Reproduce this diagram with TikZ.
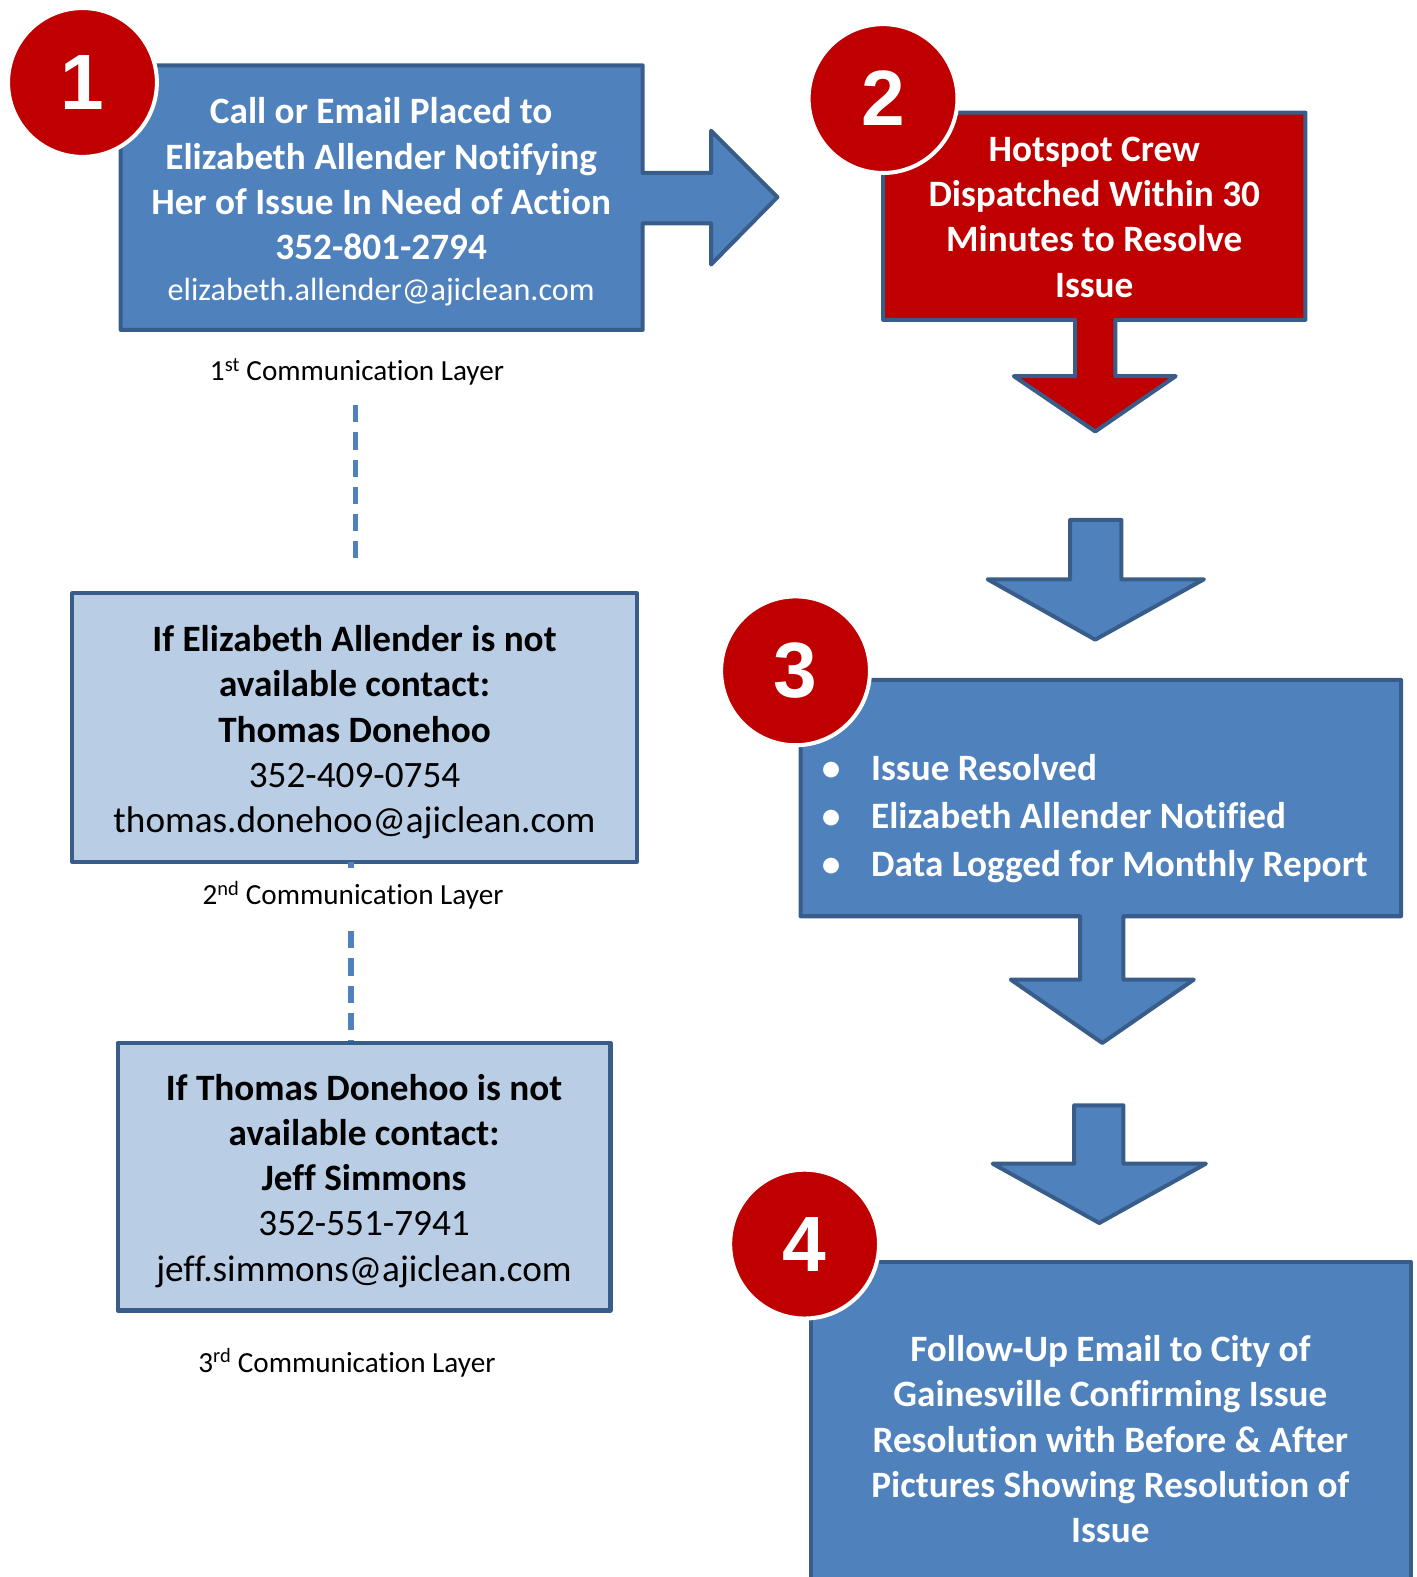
\documentclass[tikz,border=0pt]{standalone}
\usepackage{fontspec}
\setmainfont{Carlito}[Ligatures=CommonOff]
\newfontfamily\numfont{Liberation Sans}
\definecolor{bfill}{HTML}{4F81BD}
\definecolor{bdraw}{HTML}{385D8A}
\definecolor{lfill}{HTML}{B9CDE5}
\definecolor{rfill}{HTML}{C00000}
\tikzset{
  shapebox/.style={draw=bdraw, line width=4, line join=round},
  bluebox/.style={shapebox, fill=bfill},
  redbox/.style={shapebox, fill=rfill},
  lightbox/.style={draw=bdraw, line width=4, fill=lfill, line join=round, inner sep=0},
  blacktext/.style={text=black, align=center, inner sep=0, font=\fontsize{37}{45}\selectfont},
  whitetext/.style={text=white, align=center, inner sep=0, font=\fontsize{37}{45}\selectfont\bfseries},
  numcirc/.style={circle, fill=rfill, draw=white, line width=4, minimum size=148, inner sep=0, text=white,
    font=\numfont\bfseries\fontsize{78}{78}\selectfont},
  layerlabel/.style={inner sep=0, font=\fontsize{29}{34}\selectfont},
  dashline/.style={draw=bfill, line width=5, dash pattern=on 17 off 10}
}
\begin{document}
\begin{tikzpicture}[x=1pt,y=-1pt]
\useasboundingbox (0,0) rectangle (1408,1568);

% Step 1 box with right arrow
\draw[bluebox] (120,65) -- (639,65) -- (639,172) -- (707,172) -- (707,130) -- (773,196)
  -- (707,263) -- (707,222) -- (639,222) -- (639,328) -- (120,328) -- cycle;
\node[whitetext] (t1) at (379,201) {Call or Email Placed to\\Elizabeth Allender Notifying\\Her of Issue In Need of Action\\352-801-2794\\[-4pt]{\mdseries\fontsize{32}{40}\selectfont elizabeth.allender@ajiclean.com}};

% Step 2 box with down arrow
\draw[redbox] (878,112) -- (1298,112) -- (1298,318) -- (1109,318) -- (1109,374) -- (1169,374)
  -- (1089,429) -- (1008,374) -- (1069,374) -- (1069,318) -- (878,318) -- cycle;
\node[whitetext] (t2) at (1088,216) {Hotspot Crew\\Dispatched Within 30\\Minutes to Resolve\\Issue};

% standalone arrow 1
\draw[bluebox] (1064,517) -- (1115,517) -- (1115,576) -- (1197,576) -- (1089,636) -- (982,576)
  -- (1064,576) -- cycle;

% Step 3 box with down arrow
\draw[bluebox] (796,676) -- (1393,676) -- (1393,911) -- (1117,911) -- (1117,974) -- (1187,974)
  -- (1096,1037) -- (1005,974) -- (1074,974) -- (1074,911) -- (796,911) -- cycle;
\node[text=white, inner sep=0, anchor=west, align=left, font=\fontsize{37}{47.5}\selectfont\bfseries] (t3) at (817,814)
  {\makebox[49pt][l]{\textbullet}Issue Resolved\\\makebox[49pt][l]{\textbullet}Elizabeth Allender Notified\\\makebox[49pt][l]{\textbullet}Data Logged for Monthly Report};

% standalone arrow 2
\draw[bluebox] (1068,1099) -- (1117,1099) -- (1117,1157) -- (1199,1157) -- (1093,1216) -- (987,1157)
  -- (1068,1157) -- cycle;

% Step 4 box
\begin{scope}
\clip (0,0) rectangle (1408,1568);
\draw[bluebox] (806,1255) -- (1403,1255) -- (1403,1600) -- (806,1600) -- cycle;
\end{scope}
\node[whitetext] (t4) at (1104,1431) {Follow-Up Email to City of\\Gainesville Confirming Issue\\Resolution with Before \& After\\Pictures Showing Resolution of\\Issue};

% left column
\node[lightbox, minimum width=561, minimum height=267] (l2) at (352.5,723.5) {};
\node[blacktext] (l2t) at (352.5,728)
  {\textbf{If Elizabeth Allender is not}\\\textbf{available contact:}\\\textbf{Thomas Donehoo}\\352-409-0754\\thomas.donehoo@ajiclean.com};
\node[lightbox, minimum width=490, minimum height=266] (l3) at (362,1170) {};
\node[blacktext] (l3t) at (362,1174)
  {\textbf{If Thomas Donehoo is not}\\\textbf{available contact:}\\\textbf{Jeff Simmons}\\352-551-7941\\jeff.simmons@ajiclean.com};

\node[layerlabel] (lab1) at (355,370) {1\textsuperscript{st} Communication Layer};
\node[layerlabel] (lab2) at (351,890) {2\textsuperscript{nd} Communication Layer};
\node[layerlabel] (lab3) at (345,1355) {3\textsuperscript{rd} Communication Layer};

\coordinate (d1a) at (353,403);
\coordinate (d1b) at (353,555);
\draw[dashline] (d1a) -- (d1b);
\coordinate (d2a) at (349,857);
\coordinate (d2b) at (349,863);
\draw[draw=bfill, line width=5] (d2a) -- (d2b);
\coordinate (d3a) at (349,926);
\coordinate (d3b) at (349,1035);
\draw[dashline] (d3a) -- (d3b);

% number circles
\node[numcirc] (c1) at (82,82) {1};
\node[numcirc] (c2) at (878,98) {2};
\node[numcirc] (c3) at (791,667) {3};
\node[numcirc] (c4) at (800,1237) {4};
\end{tikzpicture}
\end{document}
